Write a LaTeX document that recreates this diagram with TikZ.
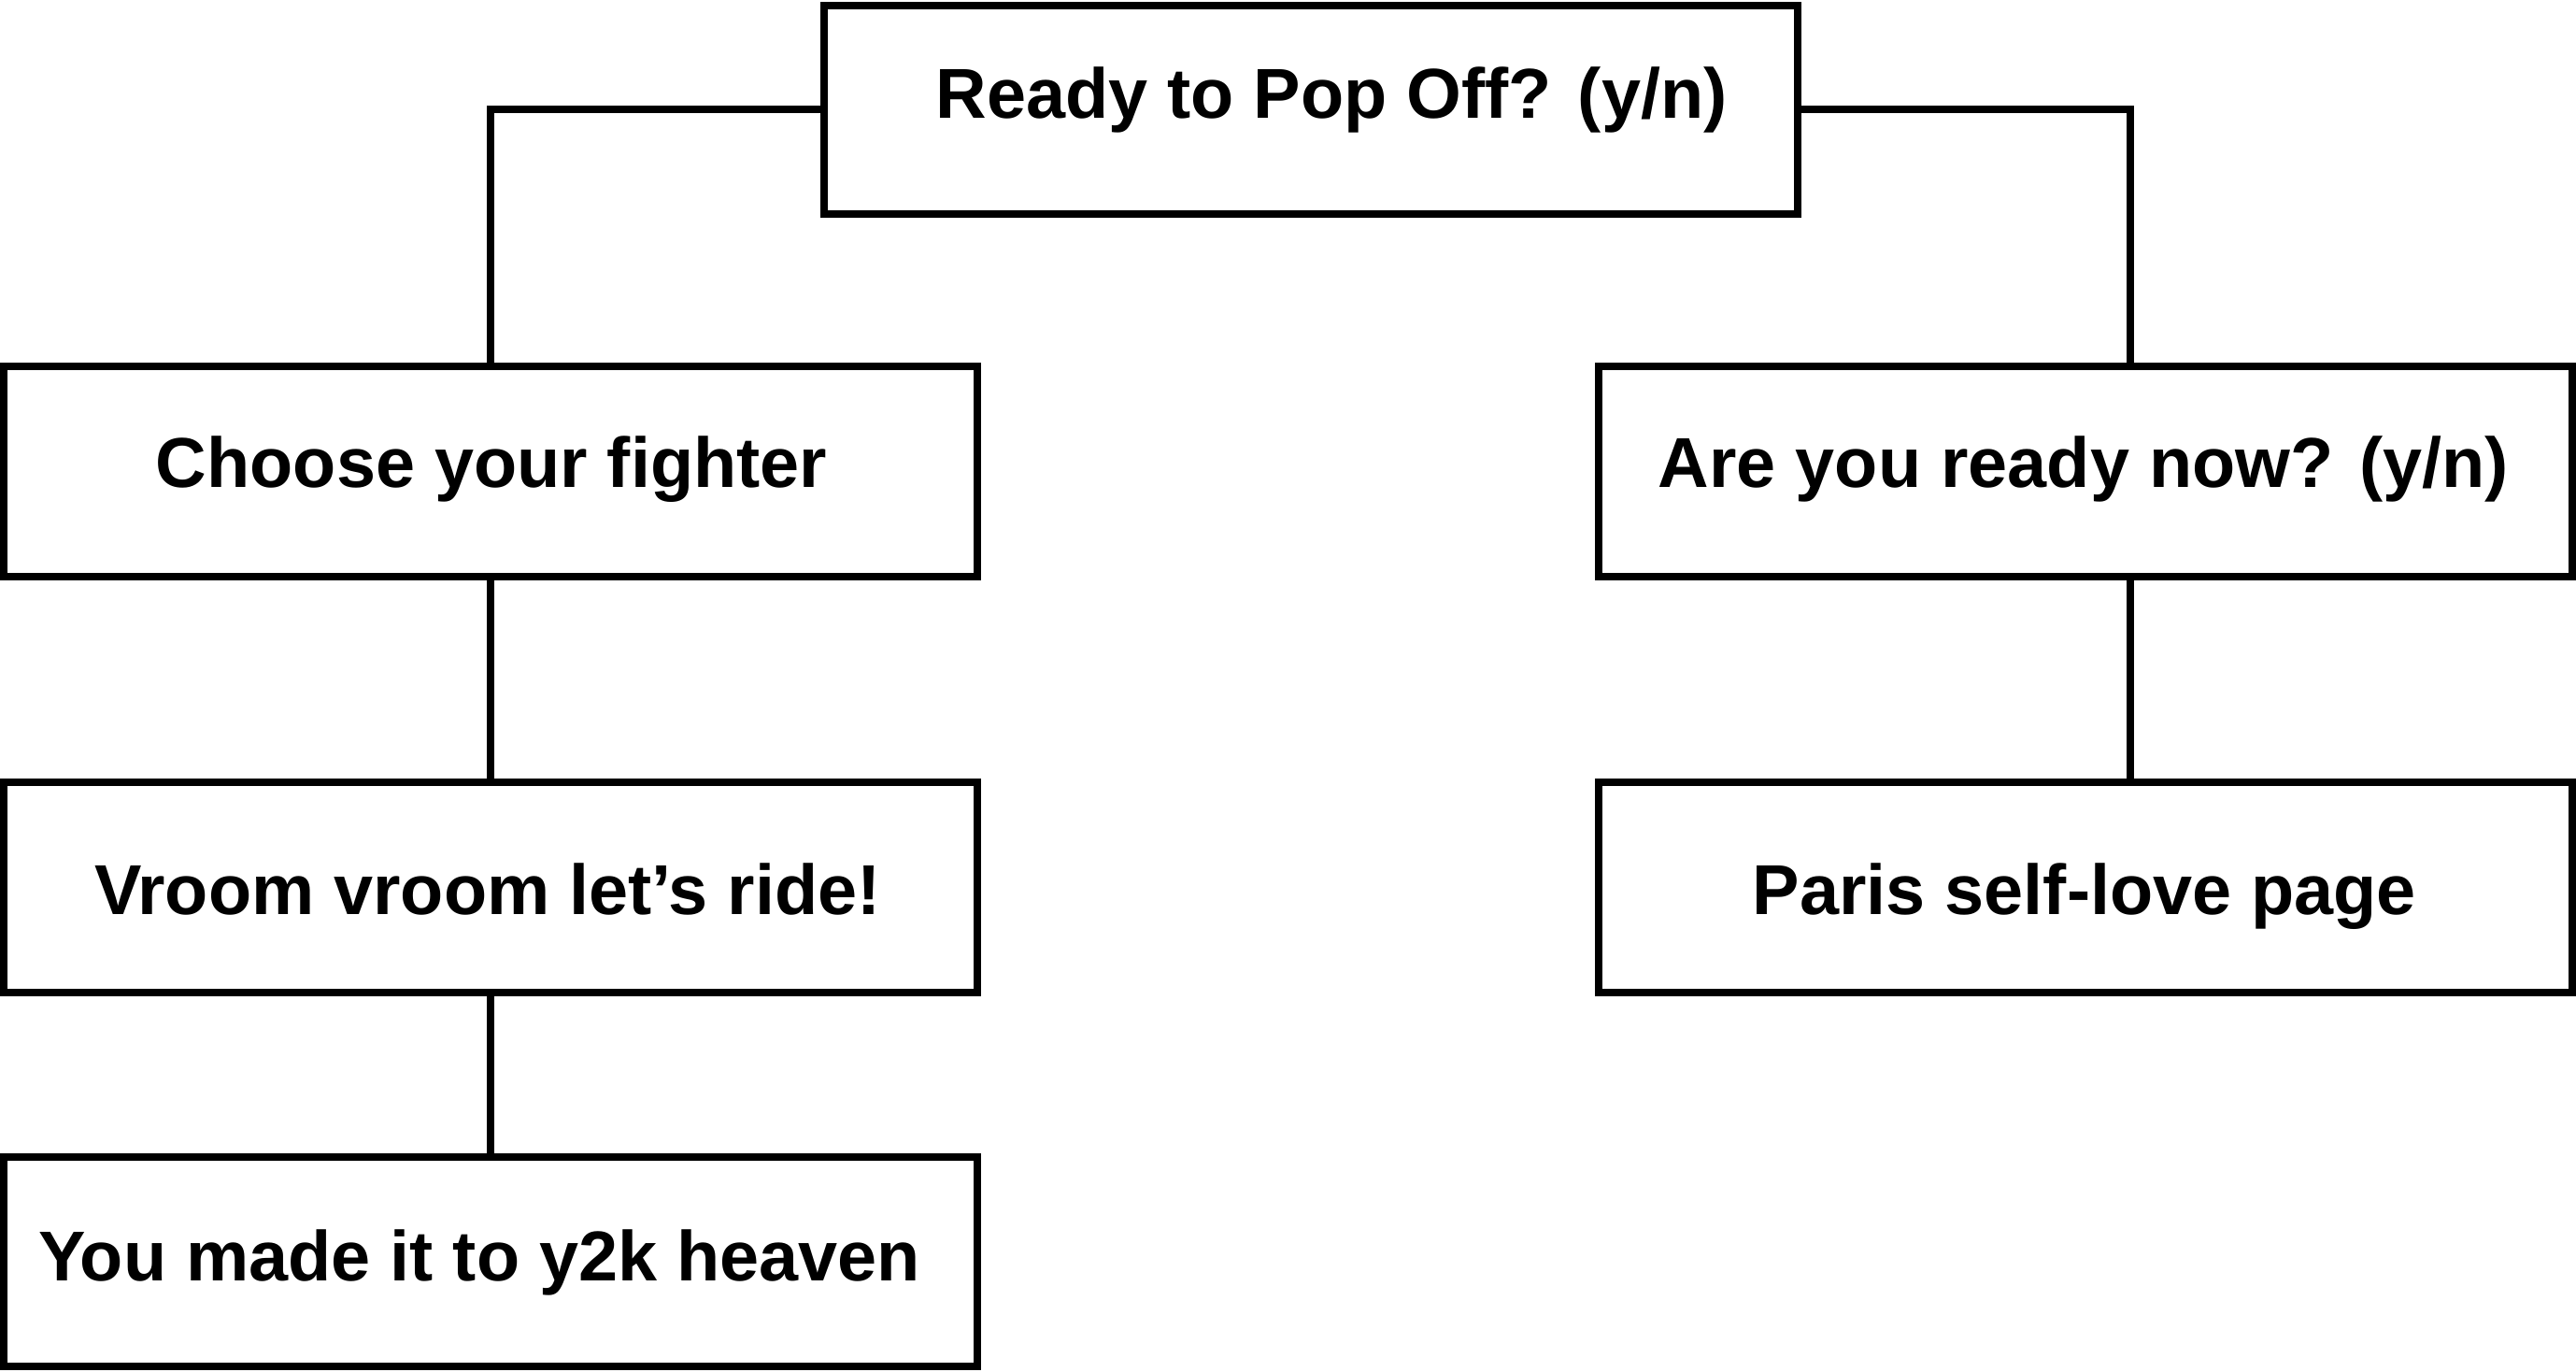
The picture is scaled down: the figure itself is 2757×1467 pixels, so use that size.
\documentclass[tikz,border=0pt]{standalone}
\usepackage{fontspec}
\setmainfont{Liberation Sans}
\begin{document}
\begin{tikzpicture}[x=0.5pt,y=-0.5pt,
  box/.style={draw=black,line width=4pt,fill=white,rectangle,inner sep=0pt,minimum width=521pt,minimum height=112.5pt},
  lbl/.style={anchor=base,inner sep=0pt,font=\bfseries\fontsize{37.8pt}{45pt}\selectfont,text=black},
  conn/.style={draw=black,line width=4pt}]
\useasboundingbox[fill=white] (0,0) rectangle (2757,1467);
% boxes
\node[box,minimum height=111.75pt] (top) at (1402.5,117.25) {};
\node[box] (l1) at (525,504.5) {};
\node[box] (l2) at (525,949.5) {};
\node[box,minimum height=112pt] (l3) at (525,1350) {};
\node[box] (r1) at (2231.5,504.5) {};
\node[box] (r2) at (2231.5,949.5) {};
% texts
\node[lbl] (ttop) at (1425,126) {Ready to Pop Off? (y/n)};
\node[lbl] (tl1) at (526,521) {Choose your fighter};
\node[lbl] (tl2) at (522,978) {Vroom vroom let’s ride!};
\node[lbl] (tl3) at (513,1370) {You made it to y2k heaven};
\node[lbl] (tr1) at (2230,521) {Are you ready now? (y/n)};
\node[lbl] (tr2) at (2231,978) {Paris self-love page};
% connectors
\coordinate (rj) at (2280,117.25);
\draw[conn] (top.west) -| (l1.north);
\draw[conn] (top.east) -- (rj) -- (rj |- r1.north);
\draw[conn] (l1.south) -- (l2.north);
\draw[conn] (l2.south) -- (l3.north);
\draw[conn] (rj |- r1.south) -- (rj |- r2.north);
\end{tikzpicture}
\end{document}
